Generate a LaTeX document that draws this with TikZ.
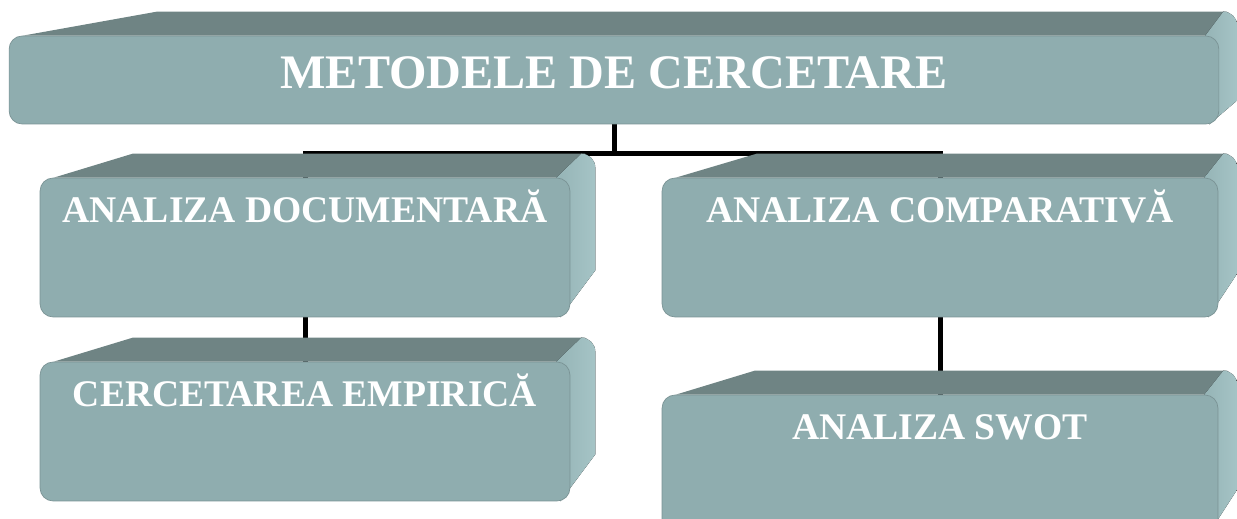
\documentclass[tikz,border=0pt]{standalone}
\usepackage{fontspec}
\setmainfont{Liberation Serif}
\usepackage{tikz}
\usepackage{xcolor}
\usetikzlibrary{calc,backgrounds,positioning}

\definecolor{frontcol}{HTML}{8FADAF}
\definecolor{topcol}{HTML}{6F8484}
\definecolor{sidecol}{HTML}{A5C4C6}

\tikzset{
    front/.style={fill=frontcol, draw=frontcol!85!black, line width=0.4pt,
        rounded corners=0.26cm, text=white, align=center,
        inner xsep=0pt, inner ysep=0pt, font=\bfseries},
    rootbox/.style={front, minimum width=24.2cm,
        text height=1.04cm, text depth=0.72cm,
        font=\fontsize{27.4}{31}\selectfont\bfseries},
    methodbox/.style={front, text height=0.88cm, text depth=1.9cm,
        font=\fontsize{21.4}{25}\selectfont\bfseries},
    topface/.style={fill=topcol},
    sideface/.style={left color=frontcol!70!sidecol, right color=sidecol},
    link/.style={line width=0.1cm, black}
}

% #1 node, #2 back offset, #3 side depth, #4 bevel height
\newcommand{\slab}[4]{%
    \fill[topface] ($(#1.north west)+(14,0)$) -- ($(#1.north west)+(#2,-24)$)
        -- ($(#1.north east)+(#3-10,-24)$) -- ($(#1.north east)+(-10,0)$) -- cycle;
    \fill[sideface] ($(#1.north east)+(-14,0)$) -- ($(#1.north east)+(#3-14,-24)$)
        to[out=0,in=90] ($(#1.north east)+(#3,-10)$) -- ($(#1.south east)+(#3,-#4)$)
        -- ($(#1.south east)+(-10,0)$) -- cycle;
}

\begin{document}
\begin{tikzpicture}[x=0.02cm, y=-0.02cm]
    \useasboundingbox (0,0) rectangle (1237,518);

    \node[rootbox] (root) at (614,80) {METODELE DE CERCETARE};
    \node[methodbox, minimum width=10.6cm] (doc) at (305,247.5) {ANALIZA DOCUMENTARĂ};
    \node[methodbox, minimum width=10.6cm] (emp) at (305,431.5) {CERCETAREA EMPIRICĂ};
    \node[methodbox, minimum width=11.12cm] (comp) at (940,247.5) {ANALIZA COMPARATIVĂ};
    \node[methodbox, minimum width=11.12cm] (swot) at (940,464.5) {ANALIZA SWOT};
    \coordinate (fork) at (614,153);

    \begin{pgfonlayer}{background}
        % connectors
        \draw[link] (root.south) -- (fork);
        \draw[link] (doc.north) |- (fork) -| (comp.north);
        \draw[link] (doc.south) -- (emp.north);
        \draw[link] (comp.south) -- (swot.north);
        % 3d faces
        \slab{root}{148}{18}{24}
        \slab{doc}{93}{25}{47}
        \slab{emp}{93}{25}{47}
        \slab{comp}{95}{19}{44}
        \slab{swot}{93}{19}{45}
    \end{pgfonlayer}
\end{tikzpicture}
\end{document}
